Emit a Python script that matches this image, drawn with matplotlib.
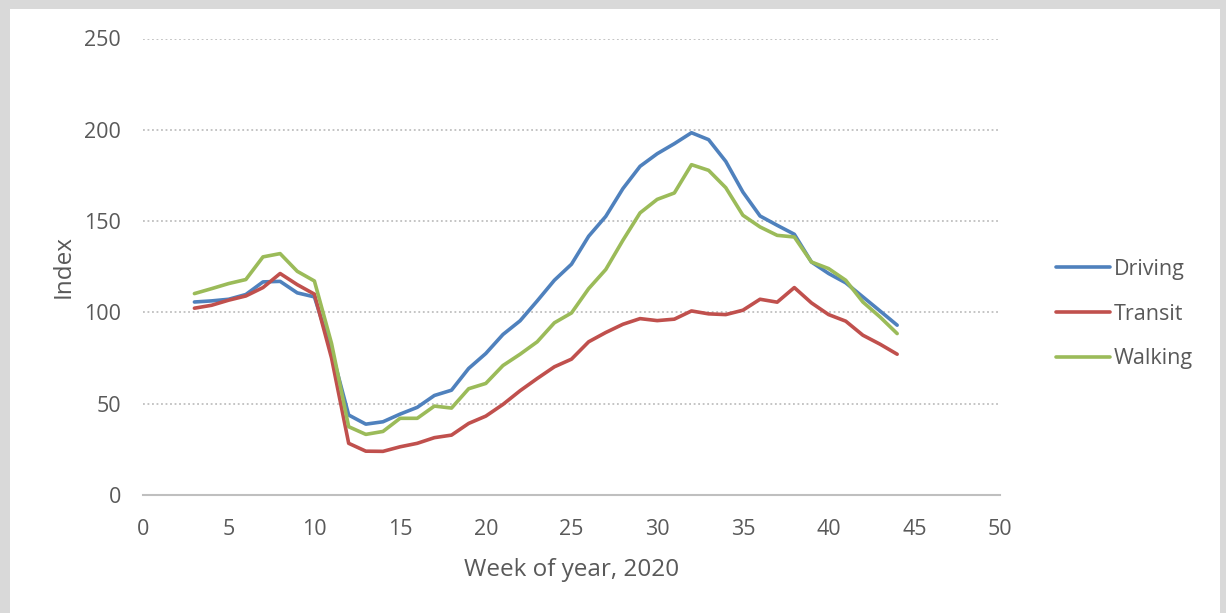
import numpy as np
import matplotlib.pyplot as plt
from matplotlib.patches import Rectangle

# weekly mobility index, 2020
weeks = np.arange(3, 45)
driving = [105.7, 106.3, 107.2, 109.8, 116.7, 117.0, 110.7, 108.5, 79.0, 43.8,
           38.8, 40.1, 44.3, 48.0, 54.5, 57.4, 69.3, 77.5, 87.9, 95.4,
           106.3, 117.6, 126.4, 141.7, 152.6, 167.8, 180.0, 186.9, 192.4, 198.4,
           194.6, 182.7, 165.9, 152.8, 147.7, 142.8, 127.6, 121.3, 116.2, 108.5,
           100.8, 93.0]
transit = [102.3, 103.9, 106.7, 109.0, 113.6, 121.3, 115.2, 110.0, 75.0, 28.3,
           24.0, 23.9, 26.4, 28.3, 31.4, 32.8, 39.2, 43.2, 49.6, 57.1,
           63.8, 70.2, 74.4, 83.9, 89.0, 93.5, 96.6, 95.5, 96.3, 100.8,
           99.2, 98.8, 101.2, 107.2, 105.6, 113.6, 105.2, 98.8, 95.2, 87.5,
           82.6, 77.1]
walking = [110.3, 113.0, 115.8, 118.0, 130.4, 132.2, 122.5, 117.2, 83.0, 37.4,
           33.2, 34.8, 42.0, 42.0, 48.7, 47.6, 58.2, 61.1, 70.9, 77.1,
           83.9, 94.3, 99.7, 113.0, 123.5, 139.5, 154.5, 161.9, 165.4, 180.9,
           177.8, 168.3, 153.2, 146.8, 142.2, 141.3, 127.6, 124.0, 117.6, 105.7,
           97.5, 88.4]

series = [("Driving", driving, "#4f81bd"),
          ("Transit", transit, "#c0504d"),
          ("Walking", walking, "#9bbb59")]

plt.rcParams['font.family'] = ['Open Sans', 'DejaVu Sans']
text_color = '#595959'
grid_color = '#bfbfbf'

W, H = 1226, 613
fig = plt.figure(figsize=(W / 100, H / 100), dpi=100, facecolor='#d9d9d9')
# white chart area inside the grey border
fig.patches.append(Rectangle((10 / W, 0), 1210 / W, 1 - 9 / H,
                             transform=fig.transFigure, facecolor='white',
                             edgecolor='none', zorder=-10))

ax = fig.add_axes([143 / W, 1 - 495 / H, 857 / W, (495 - 38.5) / H])
ax.set_facecolor('none')

for name, vals, col in series:
    ax.plot(weeks, vals, color=col, linewidth=2.6, label=name,
            solid_joinstyle='round', solid_capstyle='round', zorder=3)

ax.set_xlim(0, 50)
ax.set_ylim(0, 250)
ax.set_xticks(np.arange(0, 51, 5))
ax.set_yticks(np.arange(0, 251, 50))

ax.yaxis.grid(True, linestyle=(0, (1, 1.5)), color=grid_color, linewidth=1.3)
ax.set_axisbelow(True)
for side in ['top', 'right', 'left']:
    ax.spines[side].set_visible(False)
ax.spines['bottom'].set_color(grid_color)
ax.spines['bottom'].set_linewidth(1.5)

ax.tick_params(axis='both', length=0, labelsize=15.5, labelcolor=text_color)
ax.tick_params(axis='y', pad=16)
ax.tick_params(axis='x', pad=17)

ax.set_xlabel("Week of year, 2020", fontsize=17.5, color=text_color, labelpad=13)
ax.set_ylabel("Index", fontsize=17.5, color=text_color, labelpad=6)

leg = ax.legend(loc='center left', bbox_to_anchor=(1056 / W, 1 - 314 / H),
                bbox_transform=fig.transFigure, frameon=False, fontsize=15.5,
                handlelength=2.5, handletextpad=0.2, labelspacing=1.1,
                borderpad=0, borderaxespad=0)
for t in leg.get_texts():
    t.set_color(text_color)

fig.savefig("out.png", dpi=100, facecolor=fig.get_facecolor())
